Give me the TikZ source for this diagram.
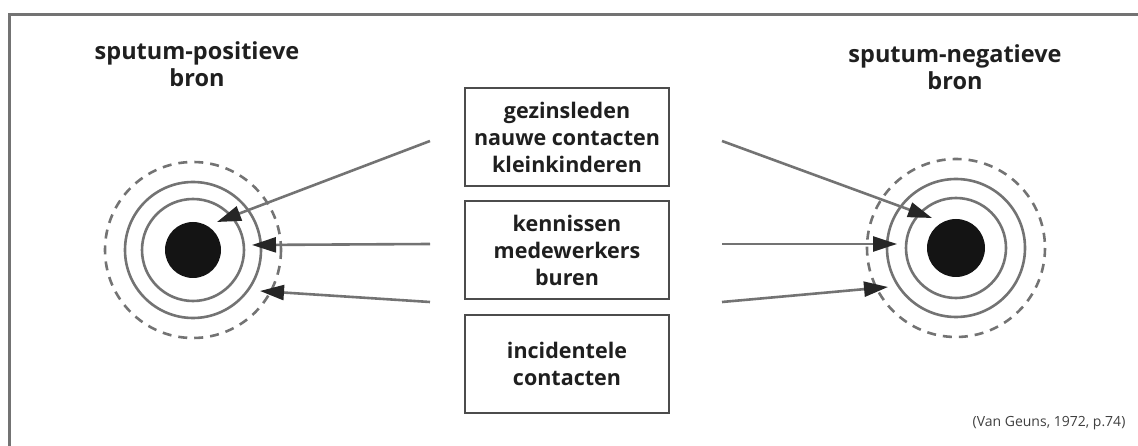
\documentclass[tikz,border=0pt]{standalone}
\usepackage{fontspec}
\setmainfont{Open Sans}
\usetikzlibrary{arrows.meta}
\begin{document}
\begin{tikzpicture}[x=1pt,y=-1pt,
  frameline/.style={draw=black!55, line width=3pt},
  ring/.style={draw=black!55, line width=2.6pt},
  dashring/.style={draw=black!55, line width=2.6pt, dash pattern=on 9pt off 7pt},
  core/.style={fill=black!92},
  groupbox/.style={draw=black!70, line width=2.2pt, minimum width=204pt, minimum height=98pt,
    align=center, font=\fontsize{21.5}{27}\selectfont\bfseries, text=black!88, inner sep=0pt},
  title/.style={align=center, font=\fontsize{23.5}{27}\selectfont\bfseries, text=black!88},
  arr/.style={draw=black!55, line width=2.6pt,
    -{Triangle[length=24pt,width=15pt,fill=black!85,color=black!85]}}]
\useasboundingbox (0,0) rectangle (1138,446);
% frame
\coordinate (fbl) at (9,446);
\coordinate (ftl) at (9,15);
\coordinate (ftr) at (1138,15);
\draw[frameline] (fbl) -- (ftl) -- (ftr);
% titles
\node[title] (tl) at (197,64) {sputum-positieve\\bron};
\node[title] (tr) at (955,67) {sputum-negatieve\\bron};
% boxes
\node[groupbox] (b1) at (567,137) {gezinsleden\\nauwe contacten\\kleinkinderen};
\node[groupbox] (b2) at (567,250) {kennissen\\medewerkers\\buren};
\node[groupbox] (b3) at (567,364) {incidentele\\contacten};
% left target
\coordinate (cl) at (193,250);
\fill[core] (cl) circle (28);
\draw[ring] (cl) circle (51);
\draw[ring] (cl) circle (68);
\draw[dashring] (cl) circle (88);
% right target
\coordinate (cr) at (956,248);
\fill[core] (cr) circle (29);
\draw[ring] (cr) circle (50);
\draw[ring] (cr) circle (69);
\draw[dashring] (cr) circle (89);
% arrow endpoints
\coordinate (sl1) at (430,141);
\coordinate (sl2) at (430,244);
\coordinate (sl3) at (430,302);
\coordinate (sr1) at (722,141);
\coordinate (sr2) at (722,244);
\coordinate (sr3) at (722,302);
\coordinate (el1) at (217,222);
\coordinate (el2) at (252,245);
\coordinate (el3) at (260,291);
\coordinate (er1) at (932,218);
\coordinate (er2) at (897,244);
\coordinate (er3) at (888,287);
\draw[arr] (sl1) -- (el1);
\draw[arr] (sl2) -- (el2);
\draw[arr] (sl3) -- (el3);
\draw[arr] (sr1) -- (er1);
\draw[arr] (sr2) -- (er2);
\draw[arr] (sr3) -- (er3);
% citation
\node[font=\fontsize{14}{16}\selectfont, text=black!75] (cite) at (1049,423) {(Van Geuns, 1972, p.74)};
\end{tikzpicture}
\end{document}
